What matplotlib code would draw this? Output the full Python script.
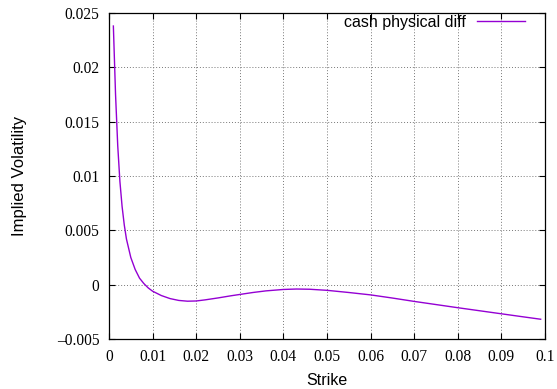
import matplotlib.pyplot as plt
from matplotlib.ticker import FuncFormatter

# tick labels are serif in the original, titles/legend are sans
plt.rcParams['font.family'] = ['Liberation Serif', 'DejaVu Serif']
plt.rcParams['axes.unicode_minus'] = True
SANS = ['Liberation Sans', 'DejaVu Sans']

# strike values and the cash-physical implied vol difference
strike = [0.001, 0.0015, 0.002, 0.0025, 0.003, 0.0035, 0.004, 0.005, 0.006,
          0.007, 0.008, 0.009, 0.010, 0.012, 0.014, 0.016, 0.018, 0.020,
          0.022, 0.025, 0.028, 0.030, 0.033, 0.036, 0.040, 0.043, 0.046,
          0.050, 0.055, 0.060, 0.065, 0.070, 0.075, 0.080, 0.085, 0.090,
          0.095, 0.099]
vol_diff = [0.0238, 0.0175, 0.0128, 0.0095, 0.0072, 0.0055, 0.0042, 0.0025,
            0.0014, 0.0006, 0.0001, -0.0003, -0.0006, -0.0010, -0.00128,
            -0.00145, -0.00152, -0.00150, -0.00140, -0.00122, -0.00102,
            -0.00090, -0.00072, -0.00057, -0.00044, -0.00040, -0.00042,
            -0.00052, -0.00072, -0.00094, -0.00123, -0.00154, -0.00183,
            -0.00212, -0.00240, -0.00268, -0.00296, -0.00318]

x_ticks = [0, 0.01, 0.02, 0.03, 0.04, 0.05, 0.06, 0.07, 0.08, 0.09, 0.1]
y_ticks = [-0.005, 0, 0.005, 0.01, 0.015, 0.02, 0.025]

fig = plt.figure(figsize=(5.57, 3.89), dpi=100)
ax = fig.add_axes([0.1957, 0.1285, 0.7828, 0.8381])

ax.plot(strike, vol_diff, color='#9400D3', lw=1.0, label='cash physical diff')

ax.set_xlim(0, 0.1)
ax.set_ylim(-0.005, 0.025)
ax.set_xticks(x_ticks)
ax.set_yticks(y_ticks)
fmt = FuncFormatter(lambda v, p: ('%g' % v).replace('-', '\u2013'))
ax.xaxis.set_major_formatter(fmt)
ax.yaxis.set_major_formatter(fmt)

ax.tick_params(direction='in', top=True, right=True, length=4, width=0.8,
               labelsize=11.2, pad=7)
ax.grid(True, color='#777777', linestyle=(0, (1, 2)), lw=0.7)
for s in ax.spines.values():
    s.set_linewidth(0.9)

ax.set_xlabel('Strike', fontsize=11.5, labelpad=6, family=SANS)
ax.set_ylabel('Implied Volatility', fontsize=12, labelpad=21, family=SANS)

leg = ax.legend(loc='upper right', bbox_to_anchor=(0.954, 0.995),
                frameon=False, markerfirst=False,
                prop={'family': SANS, 'size': 11.5},
                handlelength=3.0, handletextpad=0.7, borderpad=0,
                borderaxespad=0)

fig.savefig('out.png', dpi=100)
